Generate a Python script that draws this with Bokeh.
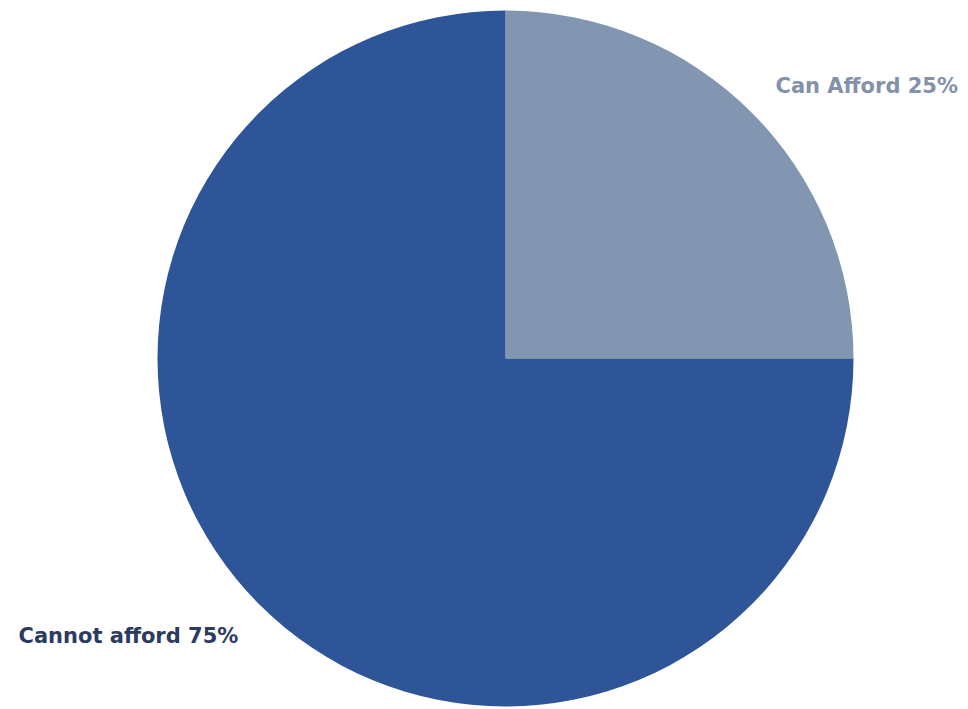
import math
from bokeh.plotting import figure
from bokeh.models import ColumnDataSource, Range1d, Label
from bokeh.embed import file_html
from bokeh.resources import INLINE

# data
categories = ["Can Afford", "Cannot afford"]
values = [25, 75]
label_texts = ["Can Afford 25%", "Cannot afford 75%"]

# styles
colors = ["#8396B1", "#2E5597"]
label_colors = ["#8391AA", "#2C3B5E"]

W, H = 968, 709
cx, cy, r = 505, 351, 348

total = sum(values)
starts, ends = [], []
a = math.pi / 2
for v in values:
    starts.append(a)
    a = a - 2 * math.pi * v / total
    ends.append(a)

src = ColumnDataSource(dict(cat=categories, val=values, start=starts, end=ends, color=colors))

p = figure(width=W, height=H, output_backend="svg", toolbar_location=None,
           x_range=Range1d(0, W), y_range=Range1d(0, H), min_border=0)
p.axis.visible = False
p.grid.visible = False
p.outline_line_color = None
p.background_fill_color = "white"
p.border_fill_color = "white"

p.wedge(x=cx, y=cy, radius=r, start_angle="start", end_angle="end", direction="clock",
        fill_color="color", line_color=None, source=src)

# label positions (screen styles)
label_pos = [(775, 624), (18, 74)]
for txt, col, (lx, ly) in zip(label_texts, label_colors, label_pos):
    p.add_layout(Label(x=lx, y=ly, x_units="data", y_units="data", text=txt,
                       text_color=col, text_font="DejaVu Sans", text_font_style="bold",
                       text_font_size="21px", text_baseline="middle", text_align="left"))

open("out.html", "w").write(file_html(p, INLINE))
